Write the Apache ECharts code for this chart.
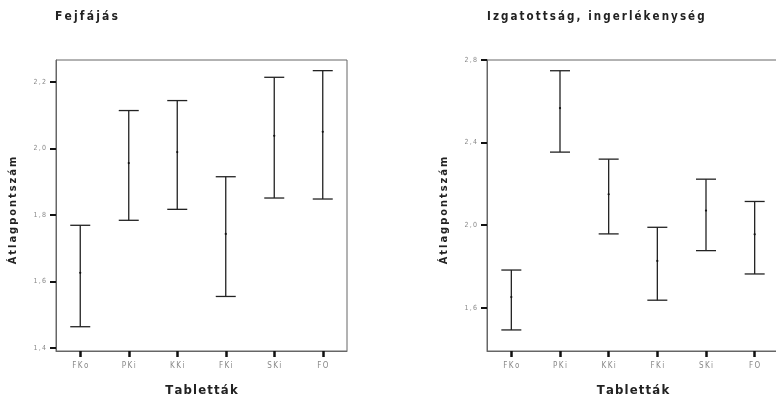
<!DOCTYPE html>
<html><head><meta charset="utf-8">
<script src="https://cdn.jsdelivr.net/npm/echarts@6/dist/echarts.min.js"></script>
<style>html,body{margin:0;padding:0;background:#fff}#c{width:776px;height:397px}</style>
</head><body><div id="c"></div>
<script>
const categories = ['FKo','PKi','KKi','FKi','SKi','FO'];
const leftTitle = 'Fejfájás';
const rightTitle = 'Izgatottság, ingerlékenység';
const yTitle = 'Átlagpontszám';
const xTitle = 'Tabletták';
const leftLower = [1.464,1.784,1.817,1.555,1.851,1.848];
const leftMean  = [1.626,1.956,1.989,1.743,2.038,2.050];
const leftUpper = [1.769,2.114,2.144,1.915,2.214,2.234];
const rightLower = [1.493,2.354,1.958,1.637,1.877,1.764];
const rightMean  = [1.652,2.567,2.150,1.827,2.071,1.956];
const rightUpper = [1.783,2.748,2.320,1.990,2.223,2.115];
const leftTicks = [1.4,1.6,1.8,2.0,2.2];
const rightTicks = [1.6,2.0,2.4,2.8];
const leftRange = [1.391, 2.266];
const rightRange = [1.391, 2.8];

const FONT = '"DejaVu Sans Condensed","Liberation Sans Narrow","Arial Narrow","Liberation Sans",Arial,sans-serif';
const sp = s => s.split('').join('\u2009');
const hp = s => s.split('').join('\u200A');

function yAxisCfg(idx, range, ticks){
  return {
    type:'value', gridIndex:idx, min:range[0], max:range[1],
    name: sp(yTitle), nameLocation:'middle', nameRotate:90, nameGap:37,
    nameTextStyle:{fontFamily:FONT,fontWeight:'bold',fontSize:11,color:'#222',padding:[0,10,0,0]},
    axisLine:{show:true,lineStyle:{color:'#666',width:1}},
    axisTick:{show:true,length:6,lineStyle:{color:'#111',width:2},customValues:ticks},
    axisLabel:{customValues:ticks,fontFamily:FONT,fontSize:7,color:'#888',margin:10,
      formatter:v=>sp(v.toFixed(1).replace('.',','))},
    splitLine:{show:false}
  };
}
function xAxisCfg(idx){
  return {
    type:'category', gridIndex:idx, data:categories, boundaryGap:true,
    name: hp(xTitle), nameLocation:'middle', nameGap:33,
    nameTextStyle:{fontFamily:FONT,fontWeight:'bold',fontSize:13,color:'#222'},
    axisLine:{show:true,lineStyle:{color:'#666',width:1}},
    axisTick:{show:true,alignWithLabel:true,length:6,lineStyle:{color:'#111',width:2.5}},
    axisLabel:{fontFamily:FONT,fontSize:8,color:'#888',margin:11,formatter:v=>sp(v)},
    splitLine:{show:false}
  };
}
function errSeries(idx, lo, mid, hi){
  return {
    type:'custom', xAxisIndex:idx, yAxisIndex:idx,
    data: categories.map((c,i)=>[i, lo[i], mid[i], hi[i]]),
    encode:{x:0,y:[1,2,3]},
    renderItem:(params, api)=>{
      const x = api.value(0);
      const pLo = api.coord([x, api.value(1)]);
      const pMid = api.coord([x, api.value(2)]);
      const pHi = api.coord([x, api.value(3)]);
      const hw = 10;
      const st = {stroke:'#222', lineWidth:1.3};
      return {type:'group', children:[
        {type:'line', shape:{x1:pHi[0],y1:pHi[1],x2:pLo[0],y2:pLo[1]}, style:st},
        {type:'line', shape:{x1:pHi[0]-hw,y1:pHi[1],x2:pHi[0]+hw,y2:pHi[1]}, style:st},
        {type:'line', shape:{x1:pLo[0]-hw,y1:pLo[1],x2:pLo[0]+hw,y2:pLo[1]}, style:st},
        {type:'circle', shape:{cx:pMid[0],cy:pMid[1],r:1.1}, style:{fill:'#111'}}
      ]};
    }
  };
}
const chart = echarts.init(document.getElementById('c'), null, {renderer:'canvas'});
chart.setOption({
  animation:false,
  title:[
    {text:sp(leftTitle), left:55, top:11, padding:0, textStyle:{fontFamily:FONT,fontWeight:'bold',fontSize:12,color:'#222'}},
    {text:sp(rightTitle), left:487, top:11, padding:0, textStyle:{fontFamily:FONT,fontWeight:'bold',fontSize:11.5,color:'#222'}}
  ],
  grid:[
    {left:56, top:60, width:291, height:291, outerBoundsMode:'none', containLabel:false, show:true, borderColor:'#666', borderWidth:1, backgroundColor:'transparent'},
    {left:487, top:60, width:292, height:291, outerBoundsMode:'none', containLabel:false, show:true, borderColor:'#666', borderWidth:1, backgroundColor:'transparent'}
  ],
  xAxis:[xAxisCfg(0), xAxisCfg(1)],
  yAxis:[yAxisCfg(0,leftRange,leftTicks), yAxisCfg(1,rightRange,rightTicks)],
  series:[errSeries(0,leftLower,leftMean,leftUpper), errSeries(1,rightLower,rightMean,rightUpper)]
});
</script></body></html>
